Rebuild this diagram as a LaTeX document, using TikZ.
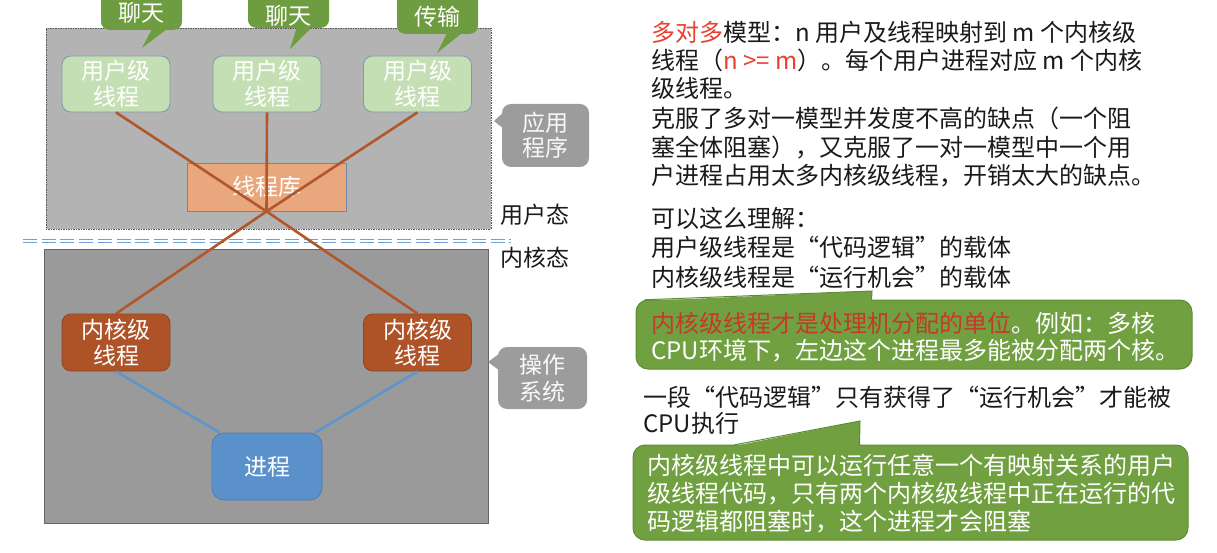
\documentclass[tikz,border=0pt]{standalone}
\usepackage{fontspec}
\setmainfont{Noto Sans CJK SC}
\usetikzlibrary{calc}
\definecolor{grayA}{HTML}{B3B3B3}
\definecolor{grayB}{HTML}{9A9A9A}
\definecolor{bubgray}{HTML}{9C9C9C}
\definecolor{ugreen}{HTML}{C5DFB4}
\definecolor{uborder}{HTML}{7F9AAE}
\definecolor{cgreen}{HTML}{6E9C40}
\definecolor{libfill}{HTML}{E9A77E}
\definecolor{libborder}{HTML}{6F88A3}
\definecolor{kfill}{HTML}{AE5328}
\definecolor{kborder}{HTML}{8E4722}
\definecolor{linebrown}{HTML}{B0582C}
\definecolor{pfill}{HTML}{5B91CA}
\definecolor{pborder}{HTML}{4C7DB2}
\definecolor{bline}{HTML}{5F95CD}
\definecolor{dashblue}{HTML}{6FA0D6}
\definecolor{gboxfill}{HTML}{70A040}
\definecolor{gboxborder}{HTML}{5E8C36}
\definecolor{redA}{HTML}{E8412F}
\definecolor{redB}{HTML}{C43A29}
\definecolor{textblack}{HTML}{1A1A1A}
\begin{document}
\begin{tikzpicture}[x=1pt,y=-1pt,
  every node/.style={inner sep=0pt},
  nodefont/.style={font=\fontsize{23}{26}\selectfont},
  uthread/.style={nodefont, draw=uborder, line width=0.8pt, fill=ugreen, text=white, rounded corners=9pt, minimum width=108pt, minimum height=56pt, align=center},
  kthread/.style={nodefont, draw=kborder, line width=0.8pt, fill=kfill, text=white, rounded corners=9pt, minimum width=108pt, minimum height=57pt, align=center},
  libbox/.style={nodefont, draw=libborder, line width=0.8pt, fill=libfill, text=white, minimum width=159pt, minimum height=48pt},
  procbox/.style={nodefont, draw=pborder, line width=0.8pt, fill=pfill, text=white, rounded corners=12pt, minimum width=110pt, minimum height=67pt},
  callout/.style={nodefont, fill=cgreen, text=white, rounded corners=8pt, minimum width=81pt, anchor=south, text height=40pt},
  sidebubble/.style={fill=bubgray, text=white!95!gray, rounded corners=9pt, align=center},
  ulink/.style={draw=linebrown, line width=2.6pt},
  klink/.style={draw=bline, line width=2.6pt},
  statelabel/.style={nodefont, anchor=base west, text=textblack},
  rtext/.style={font=\fontsize{24}{28}\selectfont, anchor=base west, text=textblack},
  wtext/.style={font=\fontsize{24}{28}\selectfont, anchor=base west, text=white},
  greenbox/.style={draw=gboxborder, line width=1pt, fill=gboxfill, rounded corners=12pt},
  dashline/.style={draw=dashblue, line width=1.6pt, dash pattern=on 14pt off 4.7pt},
]
\useasboundingbox (0,0) rectangle (1217,553);
\clip (0,0) rectangle (1217,553);

% regions
\node[draw=gray!70!black, dash pattern=on 1.5pt off 1pt, line width=0.7pt, fill=grayA, minimum width=445pt, minimum height=201pt] (userspace) at (268.4,128.4) {};
\node[draw=gray!80!black, line width=0.7pt, fill=grayB, minimum width=444pt, minimum height=274pt] (kernelspace) at (266,386) {};

\draw[dashline] (23,239.5) -- (511,239.5);
\draw[dashline] (23,242.7) -- (511,242.7);

% threads
\node[uthread] (u1) at (116,84) {用户级\\线程};
\node[uthread] (u2) at (267,84) {用户级\\线程};
\node[uthread] (u3) at (417.5,84) {用户级\\线程};
\node[libbox] (lib) at (266.5,187) {线程库};
\node[kthread] (k1) at (116,342.5) {内核级\\线程};
\node[kthread] (k2) at (417.5,342.5) {内核级\\线程};
\node[procbox] (proc) at (267,466.5) {进程};

\draw[ulink] (u1.south) -- (lib.south);
\draw[ulink] (u2.south) -- (lib.south);
\draw[ulink] (u3.south) -- (lib.south);
\draw[ulink] (lib.south) -- (k1.north);
\draw[ulink] (lib.south) -- (k2.north);
\draw[klink] (k1.south) -- ($(proc.north west)+(8,0)$);
\draw[klink] (k2.south) -- ($(proc.north east)+(-7,0)$);

% callouts
\node[callout, text depth=8.3pt] (c1) at (141.5,30) {聊天};
\node[callout, text depth=3.3pt] (c2) at (288.5,28) {聊天};
\node[callout, text depth=8.3pt] (c3) at (437.5,34) {传输};
\coordinate (c1tip) at (142,48);
\coordinate (c2tip) at (290,49);
\coordinate (c3tip) at (437,53);
\fill[cgreen] ($(c1.south)+(10.5,-1)$) -- (c1tip) -- ($(c1.south)+(25.5,-1)$) -- cycle;
\fill[cgreen] ($(c2.south)+(8.5,-1)$) -- (c2tip) -- ($(c2.south)+(23.5,-1)$) -- cycle;
\fill[cgreen] ($(c3.south)+(9.5,-1)$) -- (c3tip) -- ($(c3.south)+(24.5,-1)$) -- cycle;

% side bubbles
\node[sidebubble, minimum width=87pt, minimum height=63pt, font=\fontsize{23}{25}\selectfont] (app) at (545.5,135.5) {应用\\程序};
\coordinate (apptip) at (494,121);
\fill[bubgray] ($(app.west)+(1,-22.5)$) -- (apptip) -- ($(app.west)+(1,-7.5)$) -- cycle;
\node[sidebubble, minimum width=89pt, minimum height=62pt, font=\fontsize{23}{27}\selectfont] (os) at (542.5,378) {操作\\系统};
\coordinate (ostip) at (488,362);
\fill[bubgray] ($(os.west)+(1,-24)$) -- (ostip) -- ($(os.west)+(1,-8)$) -- cycle;

\node[statelabel] (usr) at (500,224) {用户态};
\node[statelabel] (ker) at (500,266) {内核态};

% right text
\node[rtext] (r1) at (651,42) {\textcolor{redA}{多对多}模型：n 用户及线程映射到 m 个内核级};
\node[rtext] (r2) at (651,70) {线程（\textcolor{redA}{n >= m}）。每个用户进程对应 m 个内核};
\node[rtext] (r3) at (651,98) {级线程。};
\node[rtext] (r4) at (651,128) {克服了多对一模型并发度不高的缺点（一个阻};
\node[rtext] (r5) at (651,157) {塞全体阻塞），又克服了一对一模型中一个用};
\node[rtext] (r6) at (651,185) {户进程占用太多内核级线程，开销太大的缺点。};
\node[rtext] (r7) at (651,228) {可以这么理解：};
\node[rtext] (r8) at (651,257) {用户级线程是“代码逻辑”的载体};
\node[rtext] (r9) at (651,286) {内核级线程是“运行机会”的载体};

% green box 1
\node[greenbox, minimum width=556pt, minimum height=69pt] (g1) at (914,334.5) {};
\coordinate (g1tip) at (872,291);
\fill[gboxfill] ($(g1.north west)+(9,1.5)$) -- (g1tip) -- ($(g1.north west)+(236,1.5)$) -- cycle;
\draw[gboxborder, line width=1pt] ($(g1.north west)+(9,0.3)$) -- (g1tip) -- ($(g1.north west)+(236,0.5)$);
\node[wtext] (r10) at (651,332) {\textcolor{redB}{内核级线程才是处理机分配的单位}。例如：多核};
\node[wtext] (r11) at (651,359) {CPU环境下，左边这个进程最多能被分配两个核。};

\node[rtext] (r12) at (643,406) {一段“代码逻辑”只有获得了“运行机会”才能被};
\node[rtext] (r13) at (643,432) {CPU执行};

% green box 2
\node[greenbox, minimum width=555pt, minimum height=95pt] (g2) at (910.5,492.5) {};
\coordinate (g2tip) at (860,421);
\fill[gboxfill] ($(g2.north west)+(102,1.5)$) -- (g2tip) -- ($(g2.north west)+(227,1.5)$) -- cycle;
\draw[gboxborder, line width=1pt] ($(g2.north west)+(102,0.3)$) -- (g2tip) -- ($(g2.north west)+(227,0.5)$);
\node[wtext] (r14) at (647,474) {内核级线程中可以运行任意一个有映射关系的用户};
\node[wtext] (r15) at (647,502) {级线程代码，只有两个内核级线程中正在运行的代};
\node[wtext] (r16) at (647,530) {码逻辑都阻塞时，这个进程才会阻塞};
\end{tikzpicture}
\end{document}
